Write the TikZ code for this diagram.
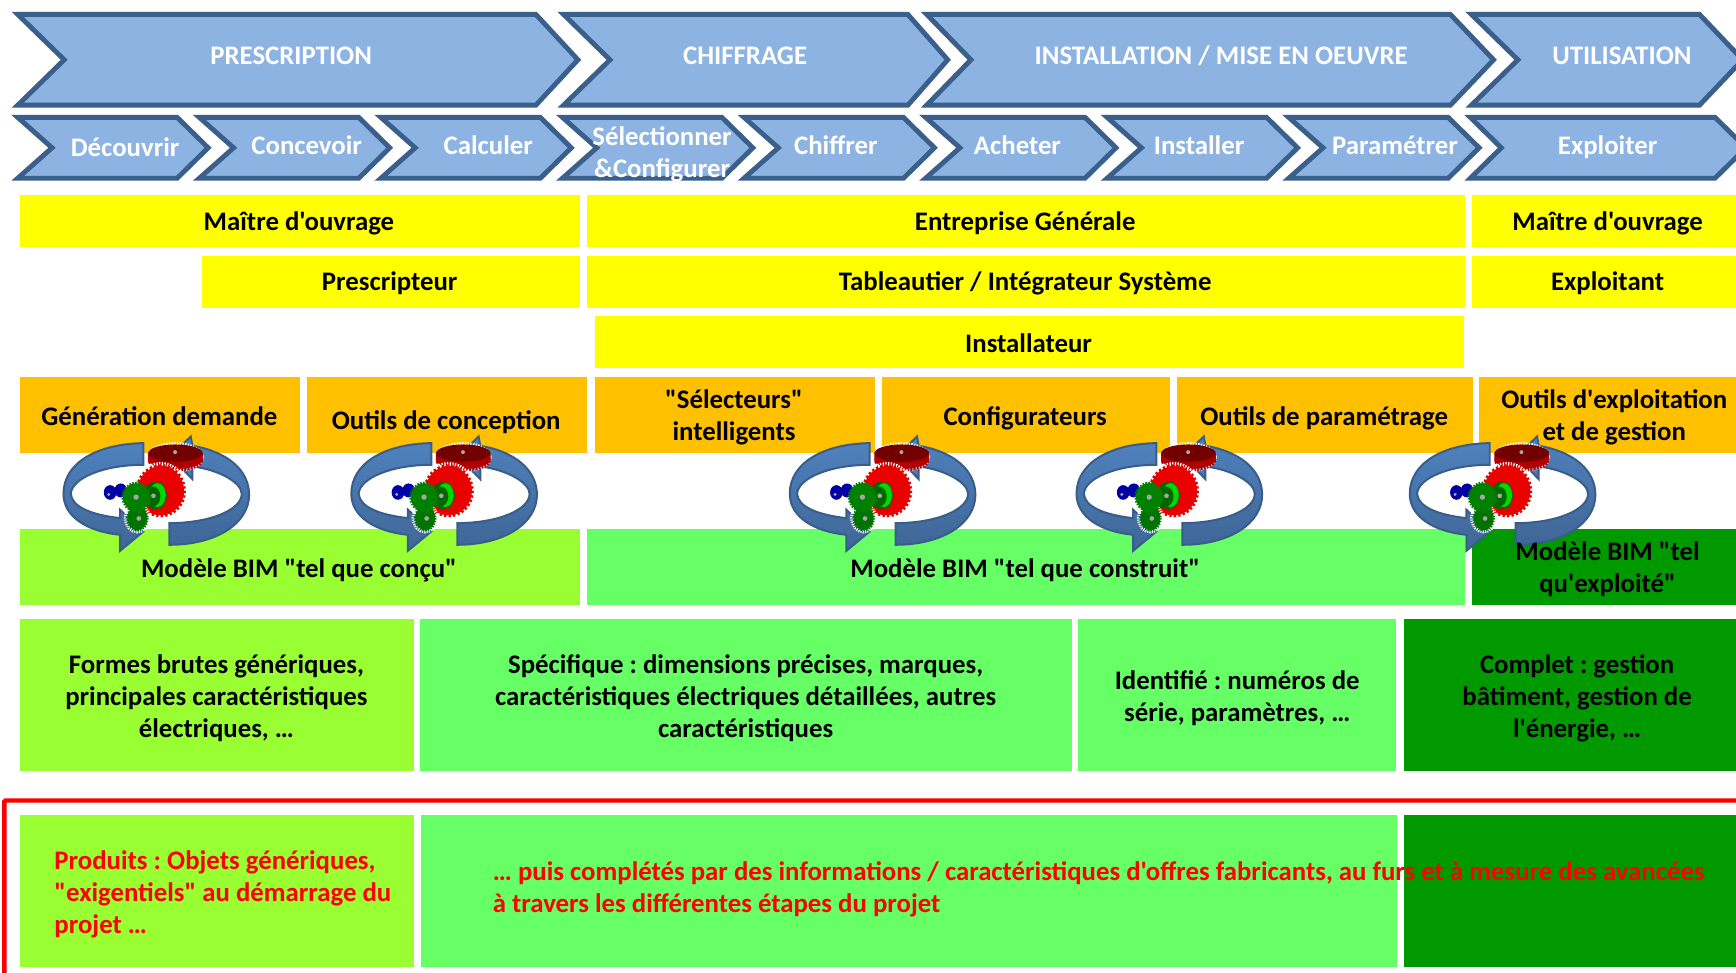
\documentclass[tikz,border=0pt]{standalone}
\usepackage{fontspec}
\newfontfamily\carl{Carlito}
\frenchspacing
\definecolor{chevfill}{HTML}{8DB3E2}
\definecolor{chevline}{HTML}{3A5F8B}
\definecolor{yel}{HTML}{FFFF00}
\definecolor{ora}{HTML}{FFC000}
\definecolor{lime}{HTML}{99FF33}
\definecolor{mid}{HTML}{66FF66}
\definecolor{dark}{HTML}{009900}
\definecolor{ringA}{HTML}{4F81BD}
\definecolor{ringB}{HTML}{3F6797}
\definecolor{ringC}{HTML}{385D8A}
\newcommand{\bx}[6]{\pgfmathsetmacro\bw{#4-#2}\pgfmathsetmacro\bh{#5-#3}%
  \node[boxn,fill=#6,minimum width=\bw pt,minimum height=\bh pt] (#1) at ({(#2+#4)/2},{(#3+#5)/2}) {};}
% chevron: name, left, notch, shoulder, tip, top, bottom
\newcommand{\chev}[7]{\draw[chevstyle] (#2,#6) coordinate (#1) -- (#4,#6) -- (#5,{(#6+#7)/2}) -- (#4,#7) -- (#2,#7) -- (#3,{(#6+#7)/2}) -- cycle;}
\tikzset{
  boxn/.style={inner sep=0pt,outer sep=0pt,draw=none},
  chevstyle/.style={fill=chevfill,draw=chevline,line width=4.4pt,miter limit=10},
  lab/.style={font=\carl\fontsize{24.2}{29}\selectfont\bfseries,align=center,inner sep=0pt,text=black},
  wlab/.style={lab,text=white},
  rlab/.style={lab,text=red,align=left},
  cycleicon/.pic={
    \begin{scope}[scale=0.301,shift={(-378,-222)}]
      \draw[top color=ringA,bottom color=ringB,draw=ringC,line width=1.8pt,line join=miter]
        (340,70) .. controls (200,72) and (100,130) .. (100,222)
        .. controls (100,290) and (170,335) .. (270,345) -- (270,393) -- (340,335) -- (270,270) -- (270,295)
        .. controls (180,285) and (125,260) .. (122,222)
        .. controls (125,175) and (220,135) .. (340,135) -- cycle;
      \draw[top color=ringA,bottom color=ringB,draw=ringC,line width=1.8pt,line join=miter]
        (418,375) .. controls (560,375) and (657,310) .. (657,225)
        .. controls (657,150) and (590,95) .. (487,78) -- (482,50) -- (420,110) -- (487,178) -- (487,140)
        .. controls (570,150) and (635,190) .. (635,222)
        .. controls (635,270) and (540,310) .. (418,310) -- cycle;
      % dark red flat gear
      \draw[draw=white,line width=3.2pt,dash pattern=on 1.2pt off 1.2pt] (436,112) ellipse [x radius=80,y radius=40];
      \fill[red!70!black] (354,100) -- (354,125) .. controls (380,155) and (490,155) .. (518,125) -- (518,100) -- cycle;
      \draw[red!70!black,line width=3pt,dash pattern=on 1.4pt off 1.4pt] (436,122) ellipse [x radius=78,y radius=28];
      \fill[red!45!black] (436,100) ellipse [x radius=82,y radius=26];
      \fill[gray!70] (435,97) circle (6);
      % big red gear
      \draw[draw=white,line width=3.2pt,dash pattern=on 1.2pt off 1.2pt] (392,213) ellipse [x radius=77,y radius=81];
      \draw[red!90!black,line width=3.4pt,dash pattern=on 2pt off 2pt] (392,213) ellipse [x radius=70,y radius=74];
      \fill[red!92!black] (392,213) ellipse [x radius=70,y radius=74];
      % light green gear
      \draw[green!40!black,line width=2.4pt,dash pattern=on 1.2pt off 1.2pt] (375,228) ellipse [x radius=33,y radius=40];
      \fill[green!40!black] (372,228) ellipse [x radius=30,y radius=38];
      \fill[green!85!black] (382,226) ellipse [x radius=25,y radius=36];
      \fill[green!40!black] (368,230) ellipse [x radius=23,y radius=30];
      \fill[gray!70] (370,228) circle (7);
      % blue gears
      \fill[blue!65!black] (240,218) ellipse [x radius=19,y radius=22];
      \fill[blue!65!black] (272,212) ellipse [x radius=19,y radius=21];
      \fill[gray!70] (236,224) circle (5);
      % dark green gears
      \draw[draw=white,line width=3pt,dash pattern=on 1pt off 1pt] (322,295) ellipse [x radius=36,y radius=41];
      \draw[green!45!black,line width=2.4pt,dash pattern=on 1.2pt off 1.2pt] (322,295) ellipse [x radius=30,y radius=36];
      \fill[green!45!black] (322,295) ellipse [x radius=30,y radius=36];
      \fill[gray!70] (326,296) circle (7);
      \draw[green!50!black,line width=2.6pt,dash pattern=on 1.3pt off 1.3pt] (318,232) ellipse [x radius=40,y radius=42];
      \fill[green!50!black] (318,232) ellipse [x radius=40,y radius=42];
      \fill[gray!70] (318,232) circle (8);
    \end{scope}
  }
}
\begin{document}
\begin{tikzpicture}[x=1pt,y=-1pt]
\useasboundingbox (0,0) rectangle (1568,878.8);
\fill[white] (0,0) rectangle (1568,878.8);
% top chevrons
\chev{c1}{16}{58}{484}{522}{13}{95}
\chev{c2}{509}{551}{820}{856}{13}{95}
\chev{c3}{837}{877}{1310}{1349}{13}{95}
\chev{c4}{1329}{1371}{1535}{1574}{13}{95}
% lower chevrons
\chev{d1}{16}{47}{160}{188}{106}{161}
\chev{d2}{180}{211}{324}{352}{106}{161}
\chev{d3}{344}{375}{488}{516}{106}{161}
\chev{d4}{508}{539}{652}{680}{106}{161}
\chev{d5}{672}{703}{816}{844}{106}{161}
\chev{d6}{836}{867}{980}{1008}{106}{161}
\chev{d7}{1000}{1031}{1144}{1172}{106}{161}
\chev{d8}{1164}{1195}{1308}{1336}{106}{161}
\chev{d9}{1328}{1356}{1549}{1577}{106}{161}
% actor bars
\bx{y1}{18}{176}{524}{223}{yel}
\bx{y2}{530}{176}{1323}{223}{yel}
\bx{y3}{1329.5}{176}{1575}{223}{yel}
\bx{y4}{182}{231}{524}{278}{yel}
\bx{y5}{530}{231}{1323}{278}{yel}
\bx{y6}{1329.5}{231}{1575}{278}{yel}
\bx{y7}{537}{285}{1322}{332}{yel}
% tools
\bx{o1}{18}{340.5}{271}{409}{ora}
\bx{o2}{277}{340.5}{530}{409}{ora}
\bx{o3}{537}{340.5}{790}{409}{ora}
\bx{o4}{797}{340.5}{1057}{409}{ora}
\bx{o5}{1063}{340.5}{1330}{409}{ora}
\bx{o6}{1336}{340.5}{1580}{409}{ora}
% models
\bx{m1}{18}{478}{524}{546}{lime}
\bx{m2}{530}{478}{1323}{546}{mid}
\bx{m3}{1329.5}{478}{1575}{546}{dark}
% description
\bx{e1}{18}{559}{374}{696}{lime}
\bx{e2}{379.5}{559}{968}{696}{mid}
\bx{e3}{974}{559}{1261}{696}{mid}
\bx{e4}{1268}{559}{1568}{696}{dark}
% red frame
\draw[red,line width=4pt,rounded corners=1pt] (4,890) -- (4,723) -- (1580,723);
\bx{p1}{18}{736.5}{374}{873}{lime}
\bx{p2}{380}{736.5}{1262}{873}{mid}
\bx{p3}{1268}{736.5}{1568}{873}{dark}
% icons
\pic (i1) at (141,446) {cycleicon};
\pic (i2) at (401,446) {cycleicon};
\pic (i3) at (797,446) {cycleicon};
\pic (i4) at (1056,446) {cycleicon};
\pic (i5) at (1357,446) {cycleicon};
% labels
\node[wlab] (t1) at (263,50.5) {PRESCRIPTION};
\node[wlab] (t2) at (673,50.5) {CHIFFRAGE};
\node[wlab] (t3) at (1103,50.5) {INSTALLATION / MISE EN OEUVRE};
\node[wlab] (t4) at (1465,50.5) {UTILISATION};
\node[wlab] (s1) at (113,133) {Découvrir};
\node[wlab] (s2) at (277,131) {Concevoir};
\node[wlab] (s3) at (441,131) {Calculer};
\node[wlab] (s4) at (598,139.5) {Sélectionner\\\&Configurer};
\node[wlab] (s5) at (755,131) {Chiffrer};
\node[wlab] (s6) at (919,131) {Acheter};
\node[wlab] (s7) at (1083,131) {Installer};
\node[wlab] (s8) at (1260,131) {Paramétrer};
\node[wlab] (s9) at (1452,133) {Exploiter};
\node[lab] (a1) at (270,201.5) {Maître d'ouvrage};
\node[lab] (a2) at (926,201.5) {Entreprise Générale};
\node[lab] (a3) at (1452,201.5) {Maître d'ouvrage};
\node[lab] (a4) at (352,256) {Prescripteur};
\node[lab] (a5) at (926,256) {Tableautier / Intégrateur Système};
\node[lab] (a6) at (1452,256) {Exploitant};
\node[lab] (a7) at (929,310) {Installateur};
\node[lab] (b1) at (144,375.5) {Génération demande};
\node[lab] (b2) at (403,381) {Outils de conception};
\node[lab] (b3) at (663,377) {"Sélecteurs"\\intelligents};
\node[lab] (b4) at (926,378) {Configurateurs};
\node[lab] (b5) at (1196,378) {Outils de paramétrage};
\node[lab] (b6) at (1458,377) {Outils d'exploitation\\et de gestion};
\node[lab] (k1) at (270,515) {Modèle BIM "tel que conçu"};
\node[lab] (k2) at (926,515) {Modèle BIM "tel que construit"};
\node[lab] (k3) at (1452,514) {Modèle BIM "tel\\qu'exploité"};
\node[lab] (f1) at (195.5,630.5) {Formes brutes génériques,\\principales caractéristiques\\électriques, …};
\node[lab] (f2) at (673.5,630.5) {Spécifique : dimensions précises, marques,\\caractéristiques électriques détaillées, autres\\caractéristiques};
\node[lab] (f3) at (1117.5,631) {Identifié : numéros de\\série, paramètres, …};
\node[lab] (f4) at (1424.5,630.5) {Complet : gestion\\bâtiment, gestion de\\l'énergie, …};
\node[rlab,anchor=west] (g1) at (49,808) {Produits : Objets génériques,\\"exigentiels" au démarrage du\\projet …};
\node[rlab,anchor=west] (g2) at (445,803) {… puis complétés par des informations / caractéristiques d'offres fabricants, au furs et à mesure des avancées\\à travers les différentes étapes du projet};
\end{tikzpicture}
\end{document}
